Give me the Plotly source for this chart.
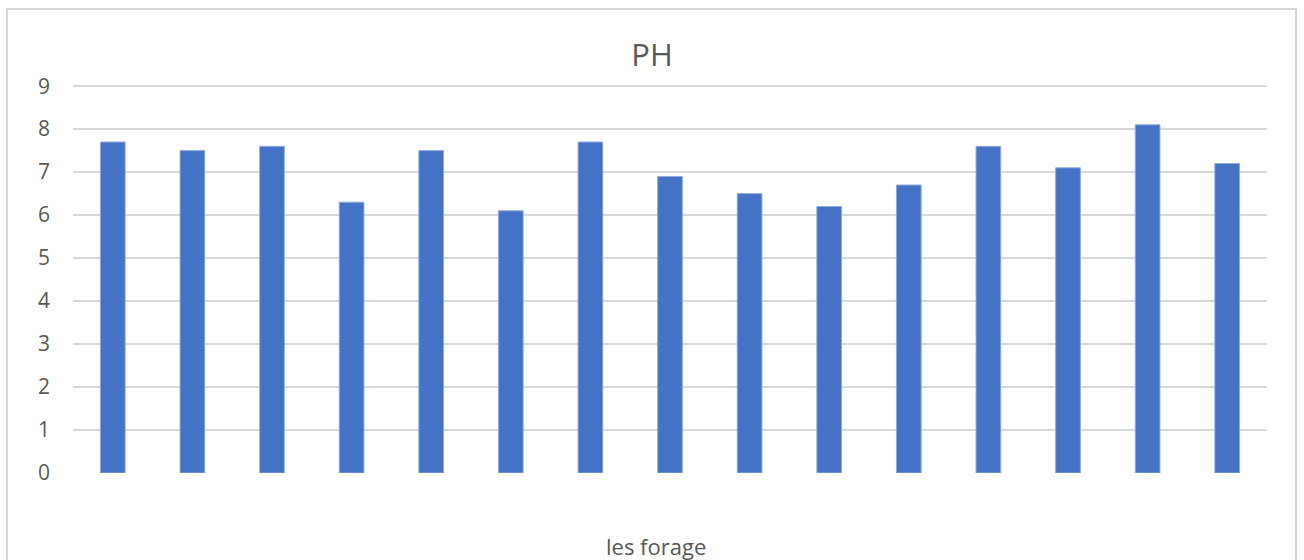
import plotly.graph_objects as go

forages = [f"F{i}" for i in range(1, 16)]
ph_values = [7.7, 7.5, 7.6, 6.3, 7.5, 6.1, 7.7, 6.9, 6.5, 6.2, 6.7, 7.6, 7.1, 8.1, 7.2]
y_ticks = [0, 1, 2, 3, 4, 5, 6, 7, 8, 9]

TEXT = "#595959"
FONT = "Open Sans"

PLOT_L, PLOT_R, PLOT_T, PLOT_B = 73, 1267, 84, 473
PW = PLOT_R - PLOT_L
PH_ = PLOT_B - PLOT_T

fig = go.Figure(go.Bar(
    x=forages, y=ph_values,
    marker=dict(color="#4472C4", line=dict(color="#8FAADC", width=1)),
    hoverinfo="x+y",
))

fig.update_layout(
    width=1304, height=560,
    margin=dict(l=PLOT_L, r=1304 - PLOT_R, t=PLOT_T, b=560 - PLOT_B),
    paper_bgcolor="white", plot_bgcolor="white",
    bargap=0.69,
    showlegend=False,
    font=dict(family=FONT, color=TEXT),
    title=dict(text="PH", x=0.5, xanchor="center", xref="container",
               y=1 - 55 / 560, yanchor="middle", yref="container",
               font=dict(size=31, color=TEXT, family=FONT)),
    shapes=[dict(type="rect", xref="paper", yref="paper",
                 x0=(7 - PLOT_L) / PW, x1=(1296 - PLOT_L) / PW,
                 y0=-0.5, y1=(PLOT_B - 9) / PH_,
                 line=dict(color="#D9D9D9", width=2), fillcolor="rgba(0,0,0,0)",
                 layer="below")],
    annotations=[dict(text="les forage", xref="paper", yref="paper",
                      x=(656 - PLOT_L) / PW, y=(PLOT_B - 546) / PH_,
                      xanchor="center", yanchor="middle",
                      showarrow=False, font=dict(size=22, color=TEXT, family=FONT))],
)

fig.update_xaxes(showticklabels=False, showgrid=False, zeroline=False, showline=False)
fig.update_yaxes(
    range=[0, 9.05], tickvals=y_ticks, showgrid=True, gridcolor="#D9D9D9", gridwidth=1.5,
    zeroline=False, showline=False, ticks="",
    tickfont=dict(size=21, color=TEXT, family=FONT),
    ticklabelstandoff=22,
)

fig.write_html("out.html")
